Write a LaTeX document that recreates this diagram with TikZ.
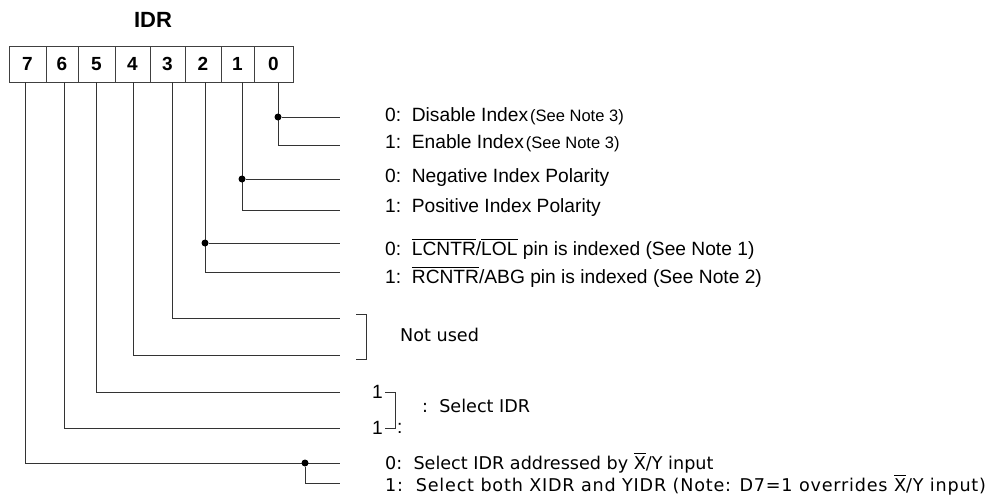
\documentclass[tikz,border=0pt]{standalone}
\usepackage{fontspec}
\setmainfont{Liberation Sans}
\newfontfamily\altfont{DejaVu Sans}
\newfontfamily\altwide[LetterSpace=4.5]{DejaVu Sans}
\newcommand{\ovl}[1]{\begingroup\setbox0\hbox{#1}\rlap{\raisebox{\dimexpr\ht0+2.5pt\relax}{\rule{\wd0}{0.8pt}}}\box0\endgroup}
\newcommand{\notesize}{\fontsize{16.5}{18}\selectfont}

\begin{document}
\begin{tikzpicture}[x=1pt,y=-1pt,
        every node/.style={inner sep=0pt},
        cell/.style={draw=black!75, line width=0.8pt, minimum height=36pt,
                     font=\bfseries\fontsize{19}{19}\selectfont},
        txt/.style={anchor=west, font=\fontsize{19.2}{21}\selectfont},
        alt/.style={anchor=west, font=\altfont\fontsize{17.6}{20}\selectfont},
        wire/.style={draw=black!80, line width=0.8pt},
        dot/.style={circle, fill=black, minimum size=7pt}]
        \useasboundingbox (0,0) rectangle (987,498);

        % register
        \node[font=\bfseries\fontsize{22}{22}\selectfont] (title) at (153,20) {IDR};
        \foreach \b/\l/\r in {7/9/46,6/46/78,5/78/115,4/115/150,3/150/185,2/185/221,1/221/254,0/254/293}
            \node[cell, minimum width={(\r-\l)*1pt}] (b\b) at ({(\l+\r)/2},64) {\b};
        \foreach \b/\x in {7/25,6/64,5/96,4/133,3/172,2/205,1/242,0/278}
            \coordinate (p\b) at (\x,82);

        % free ends of the wires
        \foreach \n/\y in {0a/117,0b/145,1a/179,1b/210,2a/243,2b/272,3/318,4/355,5/392,6/428,7a/463,7b/483}
            \coordinate (e\n) at (340,\y);

        % bits 0..2
        \draw[wire] (p0) |- (e0b);
        \node[dot] (j0) at (p0 |- e0a) {};
        \draw[wire] (j0) -- (e0a);
        \draw[wire] (p1) |- (e1b);
        \node[dot] (j1) at (p1 |- e1a) {};
        \draw[wire] (j1) -- (e1a);
        \draw[wire] (p2) |- (e2b);
        \node[dot] (j2) at (p2 |- e2a) {};
        \draw[wire] (j2) -- (e2a);

        % bits 3..6
        \foreach \b in {3,4,5,6}
            \draw[wire] (p\b) |- (e\b);

        % bit 7
        \draw[wire] (p7) |- (e7a);
        \node[dot] (j7) at (305,463) {};
        \draw[wire] (j7) |- (e7b);

        % texts
        \node[txt] (t0a) at (385,116) {0:\ \ Disable Index\hspace{2pt}{\notesize(See Note 3)}};
        \node[txt] (t0b) at (385,143) {1:\ \ Enable Index\hspace{2pt}{\notesize(See Note 3)}};
        \node[txt] (t1a) at (385,178) {0:\ \ Negative Index Polarity};
        \node[txt] (t1b) at (385,208) {1:\ \ Positive Index Polarity};
        \node[txt] (t2a) at (385,249) {0:\ \ \ovl{LCNTR}/\ovl{LOL} pin is indexed (See Note 1)};
        \node[txt] (t2b) at (385,277) {1:\ \ \ovl{RCNTR}/ABG pin is indexed (See Note 2)};

        \draw[wire] (356,314) -- (366,314) -- (366,359) -- (356,359);
        \node[alt] (unused) at (400,335) {Not used};

        \node[txt] (one5) at (372,392) {1};
        \node[txt] (one6) at (372,428) {1};
        \draw[wire] (one5.east) ++(2,0) -- ++(10,0) |- ([xshift=2pt]one6.east);
        \node[txt] (col6) at (397,428) {:};
        \node[alt] (sel) at (422,406) {:\ \ Select IDR};

        \node[alt] (t7a) at (385,463) {0:\ \ Select IDR addressed by \ovl{X}/Y input};
        \node[alt, font=\altwide\fontsize{17.6}{20}\selectfont] (t7b) at (385,485) {1:\ \ Select both XIDR and YIDR (Note: D7=1 overrides \ovl{X}/Y input)};
\end{tikzpicture}
\end{document}
